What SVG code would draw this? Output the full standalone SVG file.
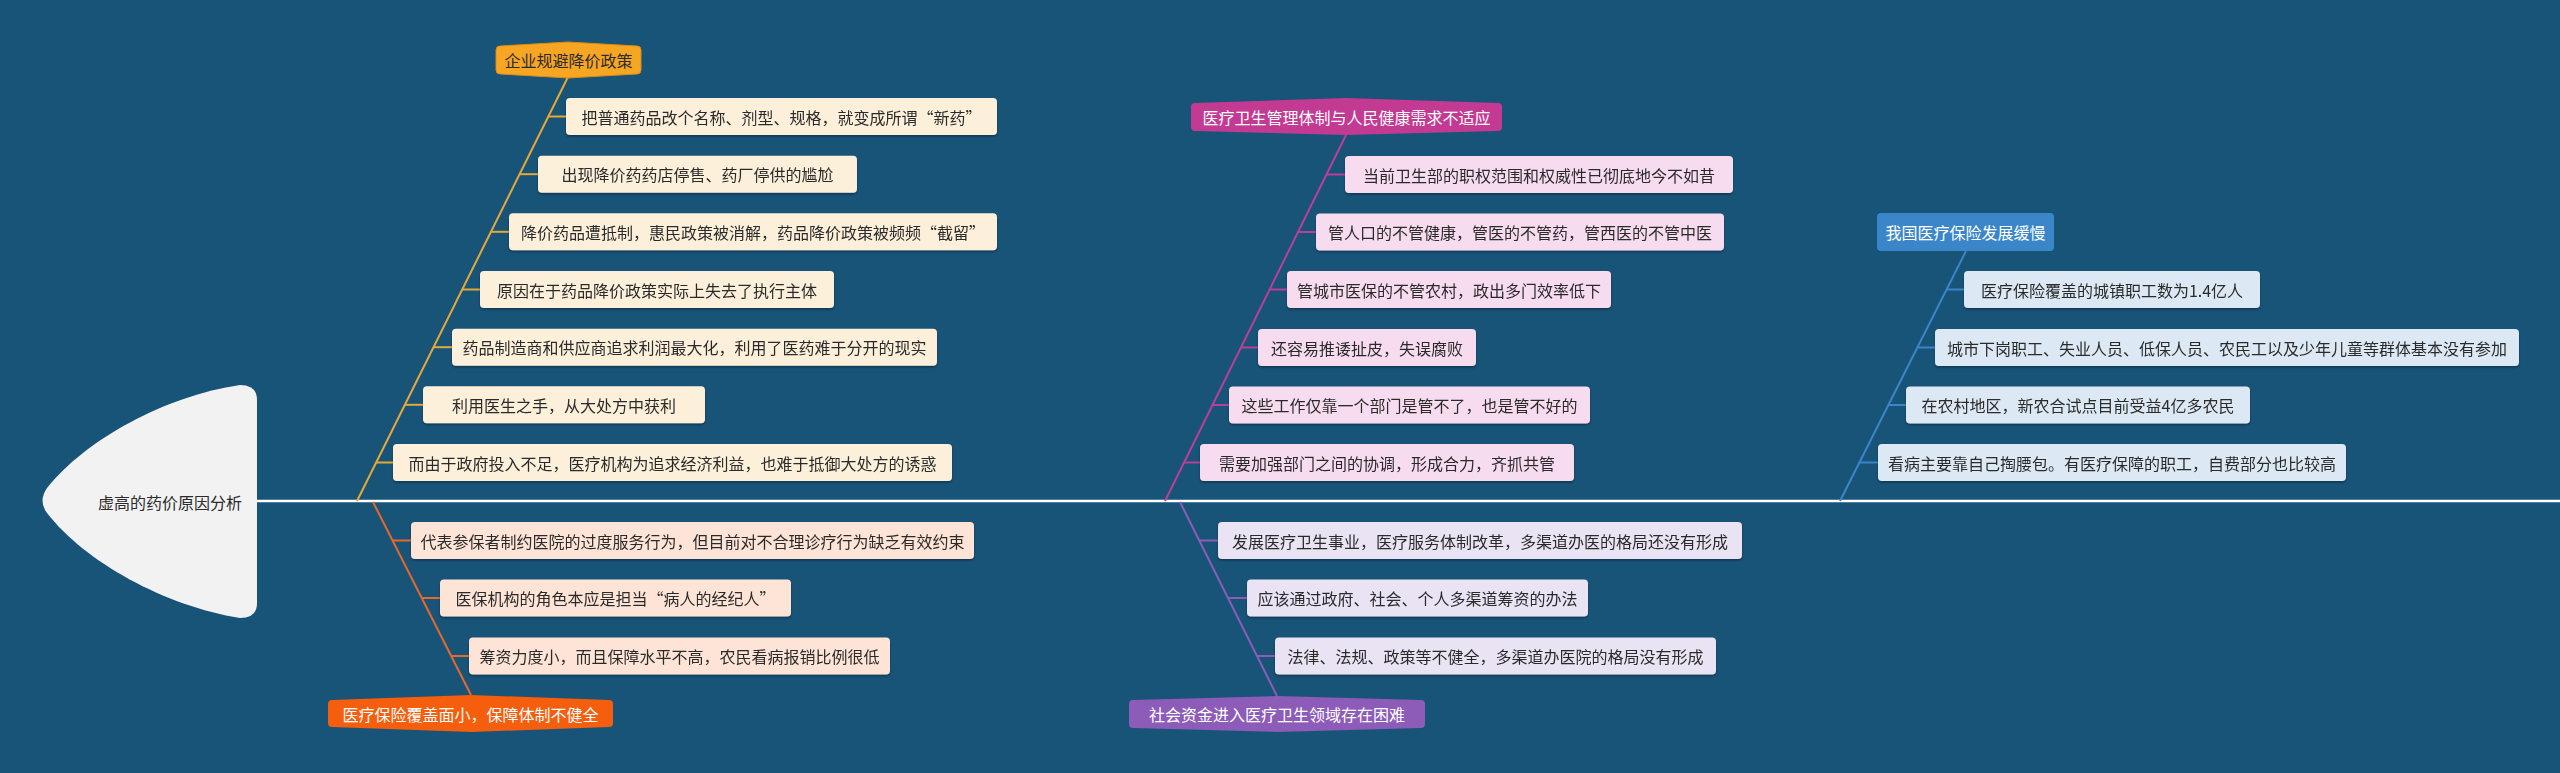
<svg xmlns="http://www.w3.org/2000/svg" width="2560" height="773" viewBox="0 0 2560 773">
<defs>
<filter id="sh" x="-5%" y="-20%" width="110%" height="150%">
<feDropShadow dx="0" dy="1.5" stdDeviation="0.8" flood-color="#000" flood-opacity="0.35"/>
</filter>
</defs>
<style>
text{font-family:"Noto Sans CJK SC","Noto Sans",sans-serif;font-size:16px;dominant-baseline:central;text-anchor:middle;fill:#2b2b2b}
.wt{fill:#ffffff}
.box{filter:url(#sh)}
.or rect{fill:#fdf0da}
.rd rect{fill:#fde4d6}
.mg rect{fill:#f7dcf0}
.pu rect{fill:#e9e3f4}
.bl rect{fill:#dce9f5}
.lo{stroke:#e5a93a}
.lr{stroke:#e4692c}
.lm{stroke:#bb3f98}
.lp{stroke:#8c5cb8}
.lb{stroke:#3b86c9}
#connectors line{stroke-width:2;fill:none}
</style>
<rect width="2560" height="773" fill="#185378"/>

<g id="connectors">
<line x1="257" y1="501" x2="2560" y2="501" style="stroke:#ffffff;stroke-width:2.5"/>
<line class="lo" x1="568" y1="77" x2="357" y2="501"/>
<line class="lo" x1="548.3" y1="116.5" x2="566" y2="116.5"/>
<line class="lo" x1="519.7" y1="174.2" x2="538" y2="174.2"/>
<line class="lo" x1="491.1" y1="231.8" x2="509" y2="231.8"/>
<line class="lo" x1="462.3" y1="289.5" x2="480" y2="289.5"/>
<line class="lo" x1="433.4" y1="347.2" x2="452" y2="347.2"/>
<line class="lo" x1="405" y1="404.8" x2="423" y2="404.8"/>
<line class="lo" x1="376.2" y1="462.5" x2="393" y2="462.5"/>
<line class="lr" x1="373" y1="502" x2="471" y2="695"/>
<line class="lr" x1="392.5" y1="540.5" x2="411" y2="540.5"/>
<line class="lr" x1="421.7" y1="598" x2="440" y2="598"/>
<line class="lr" x1="451.2" y1="656" x2="469" y2="656"/>
<line class="lm" x1="1346" y1="135" x2="1165" y2="501"/>
<line class="lm" x1="1326.5" y1="174.5" x2="1345" y2="174.5"/>
<line class="lm" x1="1298" y1="232" x2="1316" y2="232"/>
<line class="lm" x1="1269.6" y1="289.5" x2="1287" y2="289.5"/>
<line class="lm" x1="1240.9" y1="347.5" x2="1258" y2="347.5"/>
<line class="lm" x1="1212.5" y1="405" x2="1229" y2="405"/>
<line class="lm" x1="1184" y1="462.5" x2="1200" y2="462.5"/>
<line class="lp" x1="1180" y1="502" x2="1277" y2="696"/>
<line class="lp" x1="1199.3" y1="540.5" x2="1218" y2="540.5"/>
<line class="lp" x1="1228" y1="598" x2="1247" y2="598"/>
<line class="lp" x1="1257" y1="656" x2="1275" y2="656"/>
<line class="lb" x1="1966" y1="251" x2="1840" y2="501"/>
<line class="lb" x1="1946.6" y1="289.5" x2="1964" y2="289.5"/>
<line class="lb" x1="1917.4" y1="347.5" x2="1935" y2="347.5"/>
<line class="lb" x1="1888.4" y1="405" x2="1906" y2="405"/>
<line class="lb" x1="1859.4" y1="462.5" x2="1878" y2="462.5"/>
</g>

<g id="root">
<path d="M240,385 Q257,385 257,400 L257,603 Q257,618 240,618 C165,606 85,562 47,513 Q38,501 47,488 C85,440 165,396 240,385 Z" fill="#f2f2f2"/>
<text x="170" y="502">虚高的药价原因分析</text>
</g>

<g id="b1">
<path d="M500,46 L568,42 L637,46 Q641,46 641,50 L641,70 Q641,74 637,74 L568,78 L500,74 Q496,74 496,70 L496,50 Q496,46 500,46 Z" fill="#f7a623" stroke="#d98b12" stroke-width="1"/>
<text x="568.5" y="60">企业规避降价政策</text>
</g>
<g id="b1c1" class="or box"><rect x="566" y="98" width="431" height="37" rx="4"/><text x="781.5" y="116.5">把普通药品改个名称、剂型、规格，就变成所谓“新药”</text></g>
<g id="b1c2" class="or box"><rect x="538" y="155.7" width="319" height="37" rx="4"/><text x="697.5" y="174.2">出现降价药药店停售、药厂停供的尴尬</text></g>
<g id="b1c3" class="or box"><rect x="509" y="213.3" width="488" height="37" rx="4"/><text x="753" y="231.8">降价药品遭抵制，惠民政策被消解，药品降价政策被频频“截留”</text></g>
<g id="b1c4" class="or box"><rect x="480" y="271" width="354" height="37" rx="4"/><text x="657" y="289.5">原因在于药品降价政策实际上失去了执行主体</text></g>
<g id="b1c5" class="or box"><rect x="452" y="328.7" width="485" height="37" rx="4"/><text x="694.5" y="347.2">药品制造商和供应商追求利润最大化，利用了医药难于分开的现实</text></g>
<g id="b1c6" class="or box"><rect x="423" y="386.3" width="282" height="37" rx="4"/><text x="564" y="404.8">利用医生之手，从大处方中获利</text></g>
<g id="b1c7" class="or box"><rect x="393" y="444" width="559" height="37" rx="4"/><text x="672.5" y="462.5">而由于政府投入不足，医疗机构为追求经济利益，也难于抵御大处方的诱惑</text></g>

<g id="b2">
<path d="M332,700 L471,695 L609,700 Q613,700 613,704 L613,723 Q613,727 609,727 L471,732 L332,727 Q328,727 328,723 L328,704 Q328,700 332,700 Z" fill="#f45e0c"/>
<text class="wt" x="470.5" y="713.5">医疗保险覆盖面小，保障体制不健全</text>
</g>
<g id="b2c1" class="rd box"><rect x="411" y="522" width="563" height="37" rx="4"/><text x="692.5" y="540.5">代表参保者制约医院的过度服务行为，但目前对不合理诊疗行为缺乏有效约束</text></g>
<g id="b2c2" class="rd box"><rect x="440" y="579.5" width="351" height="37" rx="4"/><text x="615.5" y="598">医保机构的角色本应是担当“病人的经纪人”</text></g>
<g id="b2c3" class="rd box"><rect x="469" y="637.5" width="421" height="37" rx="4"/><text x="679.5" y="656">筹资力度小，而且保障水平不高，农民看病报销比例很低</text></g>

<g id="b3">
<path d="M1195,103 L1346,98 L1498,103 Q1502,103 1502,107 L1502,127 Q1502,131 1498,131 L1346,135 L1195,131 Q1191,131 1191,127 L1191,107 Q1191,103 1195,103 Z" fill="#c33a93"/>
<text class="wt" x="1346.5" y="117">医疗卫生管理体制与人民健康需求不适应</text>
</g>
<g id="b3c1" class="mg box"><rect x="1345" y="156" width="388" height="37" rx="4"/><text x="1539" y="174.5">当前卫生部的职权范围和权威性已彻底地今不如昔</text></g>
<g id="b3c2" class="mg box"><rect x="1316" y="213.5" width="408" height="37" rx="4"/><text x="1520" y="232">管人口的不管健康，管医的不管药，管西医的不管中医</text></g>
<g id="b3c3" class="mg box"><rect x="1287" y="271" width="324" height="37" rx="4"/><text x="1449" y="289.5">管城市医保的不管农村，政出多门效率低下</text></g>
<g id="b3c4" class="mg box"><rect x="1258" y="329" width="218" height="37" rx="4"/><text x="1367" y="347.5">还容易推诿扯皮，失误腐败</text></g>
<g id="b3c5" class="mg box"><rect x="1229" y="386.5" width="361" height="37" rx="4"/><text x="1409.5" y="405">这些工作仅靠一个部门是管不了，也是管不好的</text></g>
<g id="b3c6" class="mg box"><rect x="1200" y="444" width="374" height="37" rx="4"/><text x="1387" y="462.5">需要加强部门之间的协调，形成合力，齐抓共管</text></g>

<g id="b4">
<path d="M1133,700 L1277,696 L1421,700 Q1425,700 1425,704 L1425,724 Q1425,728 1421,728 L1277,732 L1133,728 Q1129,728 1129,724 L1129,704 Q1129,700 1133,700 Z" fill="#8c5cb8"/>
<text class="wt" x="1277" y="714">社会资金进入医疗卫生领域存在困难</text>
</g>
<g id="b4c1" class="pu box"><rect x="1218" y="522" width="524" height="37" rx="4"/><text x="1480" y="540.5">发展医疗卫生事业，医疗服务体制改革，多渠道办医的格局还没有形成</text></g>
<g id="b4c2" class="pu box"><rect x="1247" y="579.5" width="341" height="37" rx="4"/><text x="1417.5" y="598">应该通过政府、社会、个人多渠道筹资的办法</text></g>
<g id="b4c3" class="pu box"><rect x="1275" y="637.5" width="441" height="37" rx="4"/><text x="1495.5" y="656">法律、法规、政策等不健全，多渠道办医院的格局没有形成</text></g>

<g id="b5">
<rect x="1877" y="213" width="177" height="38" rx="4" fill="#3b86c9"/>
<text class="wt" x="1965.5" y="232">我国医疗保险发展缓慢</text>
</g>
<g id="b5c1" class="bl box"><rect x="1964" y="271" width="296" height="37" rx="4"/><text x="2112" y="289.5">医疗保险覆盖的城镇职工数为1.4亿人</text></g>
<g id="b5c2" class="bl box"><rect x="1935" y="329" width="584" height="37" rx="4"/><text x="2227" y="347.5">城市下岗职工、失业人员、低保人员、农民工以及少年儿童等群体基本没有参加</text></g>
<g id="b5c3" class="bl box"><rect x="1906" y="386.5" width="344" height="37" rx="4"/><text x="2078" y="405">在农村地区，新农合试点目前受益4亿多农民</text></g>
<g id="b5c4" class="bl box"><rect x="1878" y="444" width="468" height="37" rx="4"/><text x="2112" y="462.5">看病主要靠自己掏腰包。有医疗保障的职工，自费部分也比较高</text></g>
</svg>
